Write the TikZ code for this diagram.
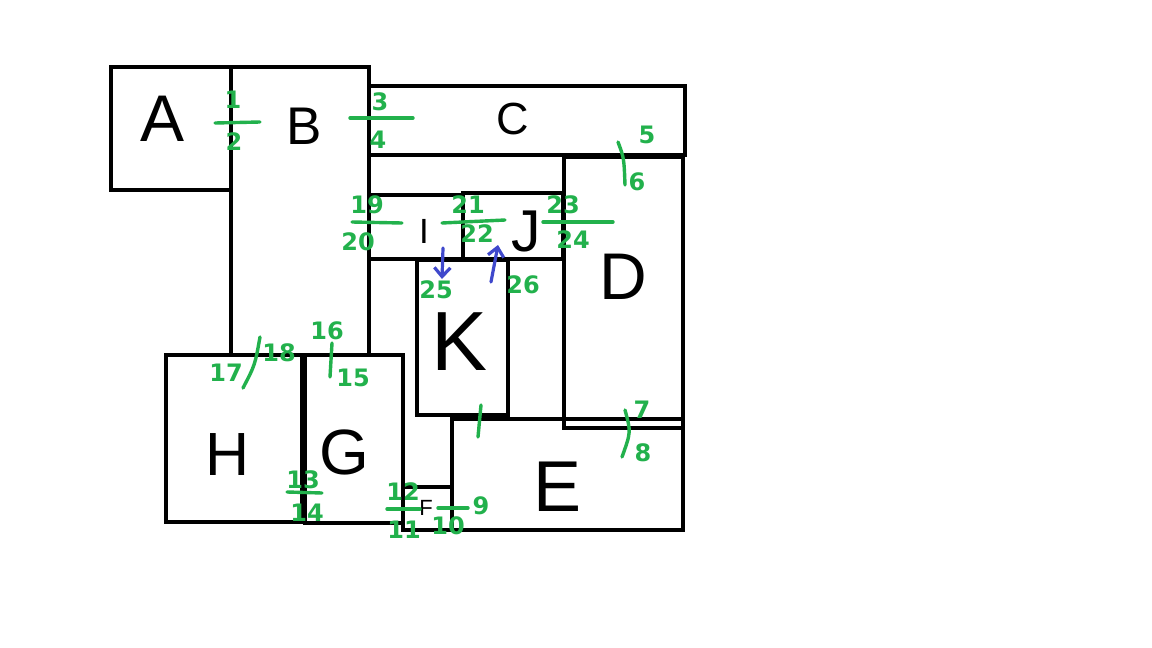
\documentclass[tikz,border=0pt]{standalone}
\usepackage{fontspec}
\setmainfont{Liberation Sans}
\newfontfamily\tagfont{DejaVu Sans}
\usetikzlibrary{arrows.meta}
\definecolor{paintGreen}{RGB}{34,177,76}
\definecolor{paintBlue}{RGB}{63,72,204}
\newcommand{\handsize}[1]{\fontsize{#1pt}{#1pt}\selectfont}
\tikzset{
  room/.style={draw=black, line width=4pt},
  letter/.style={inner sep=0pt, text=black},
  tag/.style={inner sep=0pt, text=paintGreen, font=\tagfont\bfseries\handsize{24}},
  divider/.style={draw=paintGreen, line width=3.4pt, line cap=round},
  move/.style={draw=paintBlue, line width=3.2pt, line cap=round,
    -{Straight Barb[length=9pt,width=16pt,line width=3.2pt]}}
}
\begin{document}
\begin{tikzpicture}[x=1pt, y=-1pt]
\useasboundingbox[fill=white] (0,0) rectangle (1152,648);

% rooms
\draw[room] (111,67) rectangle (231,190);   % A
\draw[room] (231,67) rectangle (369,355);   % B
\draw[room] (369,86) rectangle (685,155);   % C
\draw[room] (564,157) rectangle (683,428);  % D
\draw[room] (452,419) rectangle (683,530);  % E
\draw[room] (403,487) rectangle (452,530);  % F
\draw[room] (305,355) rectangle (403,523);  % G
\draw[room] (166,355) rectangle (301.5,522);% H
\draw[room] (369,195) rectangle (463,259);  % I
\draw[room] (463,193) rectangle (563,259);  % J
\draw[room] (417,260) rectangle (508,415);  % K

% room letters
\node[letter, font=\handsize{66}] (lblA) at (163,119) {A};
\node[letter, font=\handsize{53}] (lblB) at (304,126) {B};
\node[letter, font=\handsize{45}] (lblC) at (513,119) {C};
\node[letter, font=\handsize{66}] (lblD) at (623,277) {D};
\node[letter, font=\handsize{72}] (lblE) at (558,487) {E};
\node[letter, font=\handsize{22}] (lblF) at (426,508) {F};
\node[letter, font=\handsize{64}] (lblG) at (344,452) {G};
\node[letter, font=\handsize{61}] (lblH) at (228,455) {H};
\node[letter, font=\handsize{35}] (lblI) at (424,231) {I};
\node[letter, font=\handsize{59}] (lblJ) at (526,231) {J};
\node[letter, font=\handsize{84}] (lblK) at (460,342) {K};

% door numbers
\draw[divider] (215,123) -- (260,122);
\node[tag] (n1) at (233,100) {1};
\node[tag] (n2) at (234,142) {2};
\draw[divider] (350,118) -- (413,118);
\node[tag] (n3) at (380,102) {3};
\node[tag] (n4) at (378,140) {4};
\draw[divider] (618,142) .. controls (624,158) .. (625,185);
\node[tag] (n5) at (647,135) {5};
\node[tag] (n6) at (637,182) {6};
\draw[divider] (625,410) .. controls (631,432) .. (622,457);
\node[tag] (n7) at (642,410) {7};
\node[tag] (n8) at (643,453) {8};
\draw[divider] (438,508) -- (468,508);
\node[tag] (n9) at (481,506) {9};
\node[tag] (n10) at (448,526) {10};
\draw[divider] (387,509) -- (420,509);
\node[tag] (n12) at (403,492) {12};
\node[tag] (n11) at (404,530) {11};
\draw[divider] (287,492) -- (322,493);
\node[tag] (n13) at (303,480) {13};
\node[tag] (n14) at (307,513) {14};
\draw[divider] (332,343) -- (330,377);
\node[tag] (n16) at (327,331) {16};
\node[tag] (n15) at (353,378) {15};
\draw[divider] (260,337) .. controls (255,365) .. (243,388);
\node[tag] (n17) at (226,373) {17};
\node[tag] (n18) at (279,353) {18};
\draw[divider] (352,222) -- (402,223);
\node[tag] (n19) at (367,205) {19};
\node[tag] (n20) at (358,242) {20};
\draw[divider] (442,223) -- (505,220);
\node[tag] (n21) at (468,205) {21};
\node[tag] (n22) at (477,234) {22};
\draw[divider] (543,222) -- (613,222);
\node[tag] (n23) at (563,205) {23};
\node[tag] (n24) at (573,240) {24};
\draw[divider] (481,405) -- (478,437);

% moves between I, J and K
\coordinate (m25a) at (443,248);
\coordinate (m25b) at (442,279);
\coordinate (m26a) at (491,282);
\coordinate (m26b) at (498,245);
\draw[move] (m25a) -- (m25b);
\draw[move] (m26a) -- (m26b);
\node[tag] (n25) at (436,290) {25};
\node[tag] (n26) at (523,285) {26};
\end{tikzpicture}
\end{document}
